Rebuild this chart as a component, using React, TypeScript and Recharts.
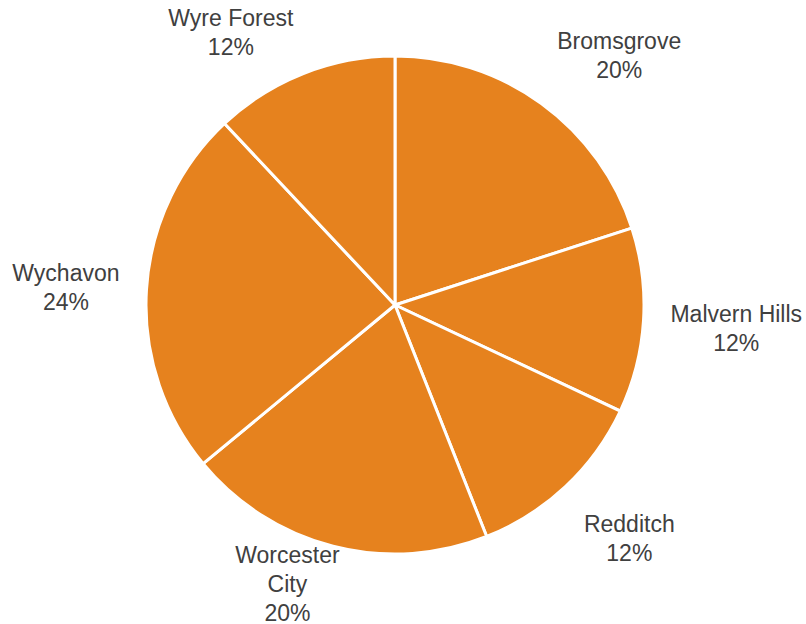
import React from "react";
import { PieChart, Pie, Cell } from "recharts";

const districts = [
  "Bromsgrove",
  "Malvern Hills",
  "Redditch",
  "Worcester City",
  "Wychavon",
  "Wyre Forest",
];
const shares = [20, 12, 12, 20, 24, 12];

const W = 806;
const H = 624;
const FONT = 23;
const LINE = 29;
const RAD = Math.PI / 180;

const data = districts.map((name, i) => ({ name, value: shares[i] }));

let ctx: CanvasRenderingContext2D | null = null;
function textWidth(s: string) {
  if (!ctx) ctx = document.createElement("canvas").getContext("2d");
  if (!ctx) return s.length * FONT * 0.55;
  ctx.font = `${FONT}px "Liberation Sans", Arial, sans-serif`;
  return ctx.measureText(s).width;
}

// excel-ish wrap: long names break on space
function wrap(name: string) {
  return name.length > 13 ? name.split(" ") : [name];
}

function renderLabel(props: any) {
  const { cx, cy, midAngle, outerRadius, name, percent } = props;
  const lines = [...wrap(name), `${Math.round(percent * 100)}%`];
  const dx = Math.cos(-midAngle * RAD);
  const dy = Math.sin(-midAngle * RAD);
  const r = outerRadius + 27;
  const hw = Math.max(...lines.map(textWidth)) / 2;
  const hh = (lines.length * LINE) / 2;
  let x = cx + r * dx + hw * Math.sign(dx) * Math.min(1, Math.abs(dx) * 3);
  let y = cy + r * dy + hh * Math.sign(dy) * Math.min(1, Math.abs(dy) * 2);
  y = Math.min(Math.max(y, hh), H - hh);
  x = Math.min(Math.max(x, hw), W - hw);
  const top = y - hh + LINE / 2 + 3;
  return (
    <text
      x={x}
      y={top}
      textAnchor="middle"
      dominantBaseline="central"
      fill="#404040"
      fontSize={FONT}
      fontFamily='"Liberation Sans", Arial, sans-serif'
    >
      {lines.map((l, i) => (
        <tspan key={i} x={x} y={top + i * LINE}>
          {l}
        </tspan>
      ))}
    </text>
  );
}

export default function App() {
  return (
    <div style={{ position: "fixed", left: 0, top: 0, width: W, height: H, background: "#fff" }}>
      <PieChart width={W} height={H} margin={{ top: 0, right: 0, bottom: 0, left: 0 }}>
        <Pie
          data={data}
          dataKey="value"
          nameKey="name"
          cx={395}
          cy={305}
          outerRadius={249}
          startAngle={90}
          endAngle={-270}
          stroke="#ffffff"
          strokeWidth={3}
          label={renderLabel}
          labelLine={false}
          isAnimationActive={false}
        >
          {data.map((d) => (
            <Cell key={d.name} fill="#E6821E" />
          ))}
        </Pie>
      </PieChart>
    </div>
  );
}
